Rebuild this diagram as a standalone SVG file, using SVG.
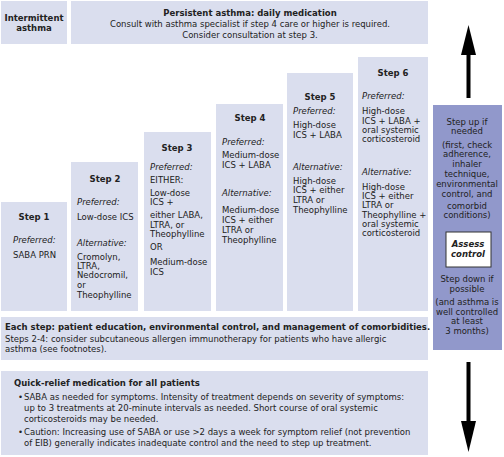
<svg xmlns="http://www.w3.org/2000/svg" width="504" height="457" viewBox="0 0 504 457">
<style>
.box{fill:#dadeee}
.side{fill:#9198cb}
text{font-family:"DejaVu Sans",Verdana,sans-serif;font-size:8.5px;fill:#222}
.b{font-weight:bold}
.i{font-style:italic}
.c{text-anchor:middle}
</style>
<rect width="504" height="457" fill="#fff"/>
<g id="intermittent">
<rect class="box" x="1" y="1" width="66" height="43"/>
<text class="b c" x="34" y="21">Intermittent</text>
<text class="b c" x="34" y="31">asthma</text>
</g>
<g id="persistent">
<rect class="box" x="71" y="1" width="357" height="43"/>
<text class="b c" x="250" y="16">Persistent asthma: daily medication</text>
<text class="c" x="250" y="27">Consult with asthma specialist if step 4 care or higher is required.</text>
<text class="c" x="250" y="38">Consider consultation at step 3.</text>
</g>
<g id="step1">
<rect class="box" x="1" y="202" width="66" height="109"/>
<text class="b c" x="34" y="220">Step 1</text>
<text class="i" x="13" y="243">Preferred:</text>
<text x="13" y="258">SABA PRN</text>
</g>
<g id="step2">
<rect class="box" x="71" y="162" width="67" height="149"/>
<text class="b c" x="105" y="182">Step 2</text>
<text class="i" x="77" y="205">Preferred:</text>
<text x="77" y="220">Low-dose ICS</text>
<text class="i" x="77" y="246">Alternative:</text>
<text x="77" y="260">Cromolyn,</text>
<text x="77" y="269">LTRA,</text>
<text x="77" y="278">Nedocromil,</text>
<text x="77" y="288">or</text>
<text x="77" y="298">Theophylline</text>
</g>
<g id="step3">
<rect class="box" x="144" y="132" width="67" height="179"/>
<text class="b c" x="177" y="151">Step 3</text>
<text class="i" x="150" y="170">Preferred:</text>
<text x="150" y="183">EITHER:</text>
<text x="150" y="196">Low-dose</text>
<text x="150" y="205">ICS +</text>
<text x="150" y="218">either LABA,</text>
<text x="150" y="228">LTRA, or</text>
<text x="150" y="237">Theophylline</text>
<text x="150" y="250">OR</text>
<text x="150" y="265">Medium-dose</text>
<text x="150" y="275">ICS</text>
</g>
<g id="step4">
<rect class="box" x="216" y="104" width="67" height="207"/>
<text class="b c" x="250" y="121">Step 4</text>
<text class="i" x="222" y="145">Preferred:</text>
<text x="222" y="158">Medium-dose</text>
<text x="222" y="168">ICS + LABA</text>
<text class="i" x="222" y="196">Alternative:</text>
<text x="222" y="213">Medium-dose</text>
<text x="222" y="223">ICS + either</text>
<text x="222" y="233">LTRA or</text>
<text x="222" y="243">Theophylline</text>
</g>
<g id="step5">
<rect class="box" x="287" y="73" width="66" height="238"/>
<text class="b c" x="320" y="100">Step 5</text>
<text class="i" x="293" y="114">Preferred:</text>
<text x="293" y="128">High-dose</text>
<text x="293" y="138">ICS + LABA</text>
<text class="i" x="293" y="170">Alternative:</text>
<text x="293" y="184">High-dose</text>
<text x="293" y="193">ICS + either</text>
<text x="293" y="203">LTRA or</text>
<text x="293" y="213">Theophylline</text>
</g>
<g id="step6">
<rect class="box" x="358" y="57" width="70" height="254"/>
<text class="b c" x="393" y="76">Step 6</text>
<text class="i" x="362" y="99">Preferred:</text>
<text x="362" y="114">High-dose</text>
<text x="362" y="124">ICS + LABA +</text>
<text x="362" y="133">oral systemic</text>
<text x="362" y="142">corticosteroid</text>
<text class="i" x="362" y="175">Alternative:</text>
<text x="362" y="190">High-dose</text>
<text x="362" y="199">ICS + either</text>
<text x="362" y="208">LTRA or</text>
<text x="362" y="218">Theophylline +</text>
<text x="362" y="227">oral systemic</text>
<text x="362" y="236">corticosteroid</text>
</g>
<g id="each-step">
<rect class="box" x="1" y="317" width="427" height="43"/>
<text class="b" x="5" y="330">Each step: patient education, environmental control, and management of comorbidities.</text>
<text x="5" y="342">Steps 2-4: consider subcutaneous allergen immunotherapy for patients who have allergic</text>
<text x="5" y="352">asthma (see footnotes).</text>
</g>
<g id="quick-relief">
<rect class="box" x="1" y="371" width="427" height="84"/>
<text class="b" x="14" y="386">Quick-relief medication for all patients</text>
<text x="18" y="400">•</text>
<text x="24" y="400">SABA as needed for symptoms. Intensity of treatment depends on severity of symptoms:</text>
<text x="24" y="411">up to 3 treatments at 20-minute intervals as needed. Short course of oral systemic</text>
<text x="24" y="422">corticosteroids may be needed.</text>
<text x="18" y="435">•</text>
<text x="24" y="435">Caution: Increasing use of SABA or use &gt;2 days a week for symptom relief (not prevention</text>
<text x="24" y="446">of EIB) generally indicates inadequate control and the need to step up treatment.</text>
</g>
<g id="assess">
<rect class="side" x="433" y="105" width="69" height="245"/>
<text class="c" x="467" y="125">Step up if</text>
<text class="c" x="467" y="134">needed</text>
<text class="c" x="467" y="148">(first, check</text>
<text class="c" x="467" y="157">adherence,</text>
<text class="c" x="467" y="167">inhaler</text>
<text class="c" x="467" y="177">technique,</text>
<text class="c" x="467" y="187">environmental</text>
<text class="c" x="467" y="197">control, and</text>
<text class="c" x="467" y="209">comorbid</text>
<text class="c" x="467" y="218">conditions)</text>
<rect x="446" y="232" width="45" height="35" fill="#fff" stroke="#333" stroke-width="1"/>
<text class="b i c" x="468" y="247">Assess</text>
<text class="b i c" x="468" y="257">control</text>
<text class="c" x="467" y="282">Step down if</text>
<text class="c" x="467" y="292">possible</text>
<text class="c" x="467" y="305">(and asthma is</text>
<text class="c" x="467" y="315">well controlled</text>
<text class="c" x="467" y="324">at least</text>
<text class="c" x="467" y="334">3 months)</text>
</g>
<g id="connectors">
<rect x="466.5" y="54" width="4" height="44" fill="#000"/>
<polygon points="468.5,25 476,55 461,55" fill="#000"/>
<rect x="466.5" y="362" width="4" height="60" fill="#000"/>
<polygon points="468.5,452 476,421 461,421" fill="#000"/>
</g>
</svg>
